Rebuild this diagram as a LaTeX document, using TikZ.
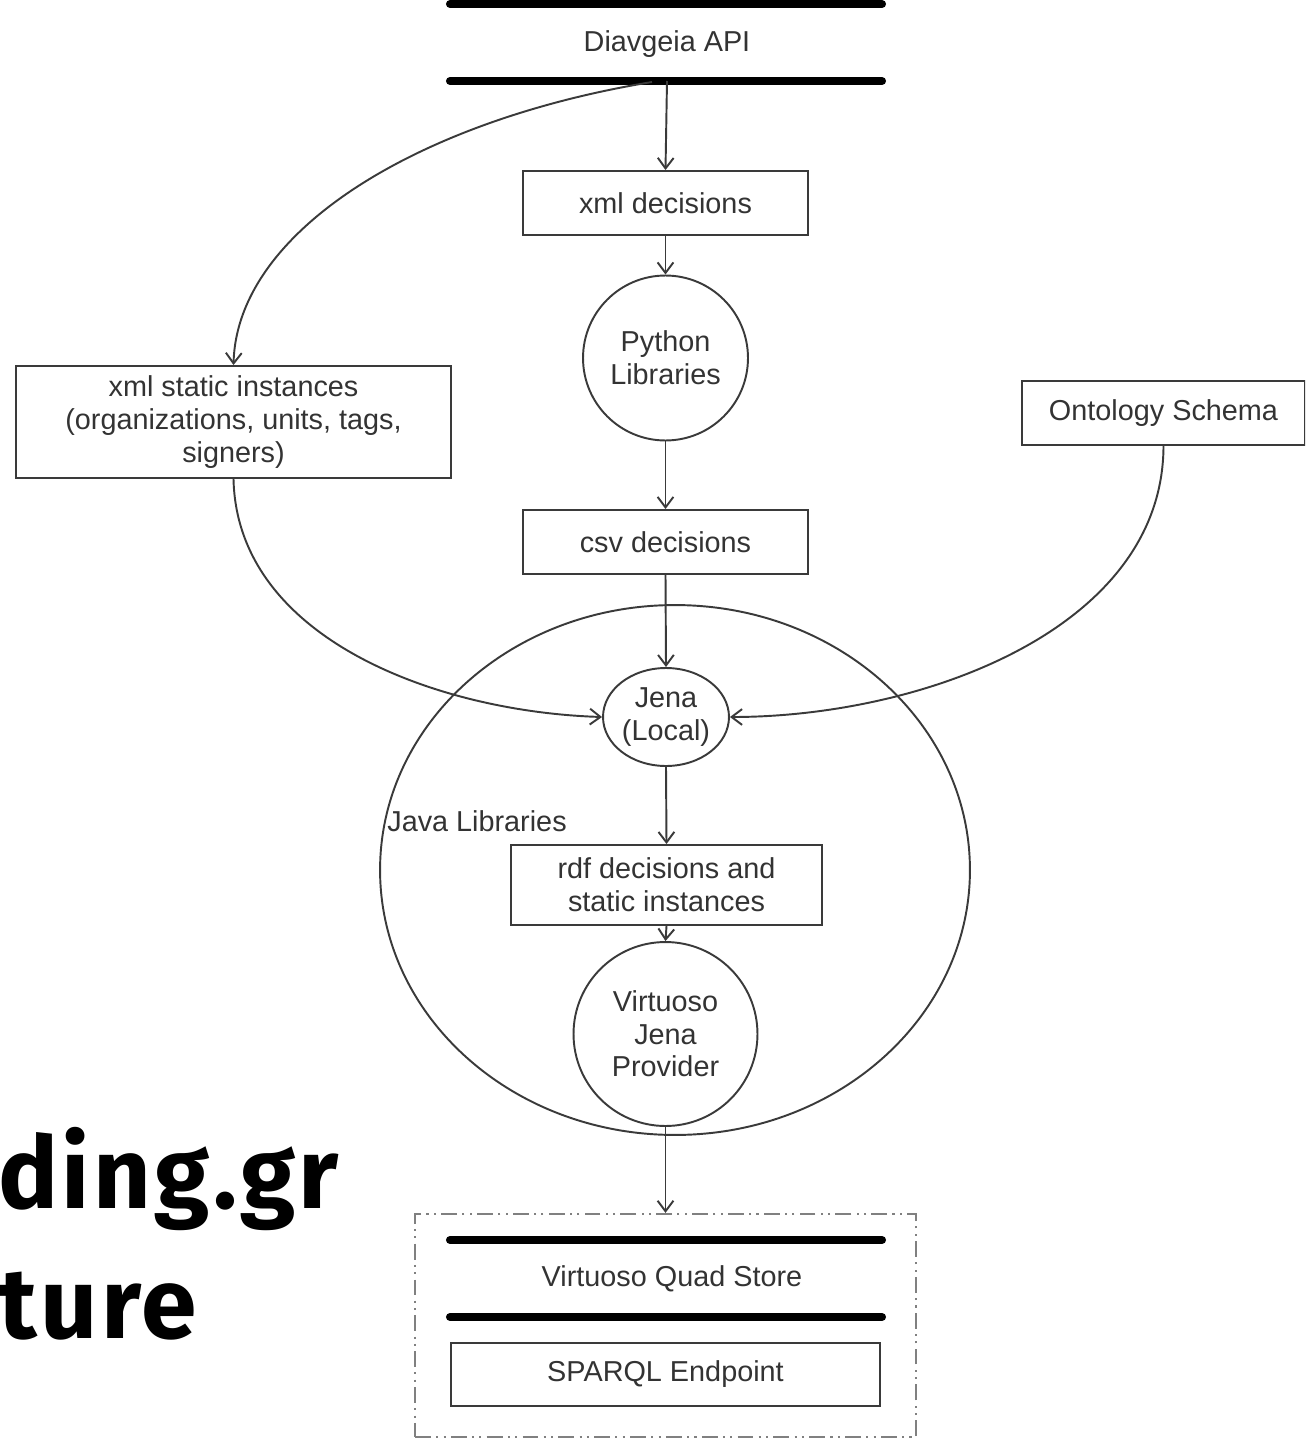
\documentclass[tikz,border=0pt]{standalone}
\usepackage{fontspec}
\setmainfont{Liberation Sans}
\newfontfamily\bigfont[LetterSpace=3.5]{Fira Sans}
\usetikzlibrary{arrows.meta,shapes.geometric}
\definecolor{ink}{HTML}{333333}
\definecolor{lineclr}{HTML}{3A3A3A}
\tikzset{
  lbl/.style={font=\fontsize{16.4}{18.6}\selectfont, text=ink, align=center},
  boxnode/.style={lbl, draw=lineclr, line width=1.1pt, rectangle, inner sep=0pt},
  circnode/.style={lbl, draw=lineclr, line width=1.1pt, circle, inner sep=0pt},
  ellnode/.style={lbl, draw=lineclr, line width=1.1pt, ellipse, inner sep=0pt},
  conn/.style={draw=lineclr, line width=1.1pt, -{Straight Barb[length=6pt,width=9pt,line width=1.1pt]}},
  bar/.style={line width=4.6pt, line cap=round, black},
  storebox/.style={draw=gray, line width=1.3pt, dash pattern=on 9pt off 3pt on 1.2pt off 3pt on 1.2pt off 3pt, rectangle, inner sep=0pt},
  bigtxt/.style={font=\bigfont\bfseries\fontsize{57}{68}\selectfont, anchor=base west, inner sep=0pt}
}
\begin{document}
\begin{tikzpicture}[x=0.02cm, y=-0.02cm]
\useasboundingbox (0,0) rectangle (1305,1440);
\clip (0,0) rectangle (1305,1440);
% Diavgeia API
\draw[bar] (450,4) -- (882,4);
\draw[bar] (450,81) -- (882,81);
\node[lbl] (api) at (667,44) {Diavgeia API};
\coordinate (apibot) at (667,81);
\coordinate (apiarc) at (652,82);
% nodes
\node[boxnode, minimum width=5.7cm, minimum height=1.28cm] (xmldec) at (665.5,203) {xml decisions};
\node[circnode, minimum size=3.3cm, text width=3cm] (python) at (665.5,358) {Python\\Libraries};
\node[boxnode, minimum width=5.7cm, minimum height=1.28cm] (csvdec) at (665.5,542) {csv decisions};
\node[boxnode, minimum width=8.7cm, minimum height=2.24cm] (xmlstatic) at (233.5,422) {xml static instances\\(organizations, units, tags,\\signers)};
\node[boxnode, minimum width=5.66cm, minimum height=1.28cm] (onto) at (1163.5,413) {Ontology Schema};
\node[ellnode, minimum width=11.8cm, minimum height=10.6cm] (java) at (675,870) {};
\node[ellnode, fill=white, minimum width=2.52cm, minimum height=1.96cm] (jena) at (666,717) {Jena\\(Local)};
\node[lbl, anchor=west, inner sep=0pt] (javalbl) at (387,821) {Java Libraries};
\node[boxnode, minimum width=6.22cm, minimum height=1.6cm] (rdf) at (666.5,885) {rdf decisions and\\static instances};
\node[circnode, minimum size=3.68cm] (virt) at (665.5,1034) {Virtuoso\\Jena\\Provider};
% store
\node[storebox, minimum width=10.02cm, minimum height=4.46cm] (store) at (665.5,1325.5) {};
\draw[bar] (450,1240) -- (882,1240);
\draw[bar] (450,1317) -- (882,1317);
\node[lbl] (quad) at (672,1279) {Virtuoso Quad Store};
\node[boxnode, minimum width=8.58cm, minimum height=1.26cm] (sparql) at (665.5,1374.5) {SPARQL Endpoint};
% connectors
\draw[conn] (apibot) -- (xmldec.north);
\draw[conn] (xmldec.south) -- (python.north);
\draw[conn] (python.south) -- (csvdec.north);
\draw[conn] (csvdec.south) -- (jena.north);
\draw[conn] (jena.south) -- (rdf.north);
\draw[conn] (rdf.south) -- (virt.north);
\draw[conn] (virt.south) -- (virt.south |- store.north);
\draw[conn] (apiarc) .. controls (420,120) and (237,230) .. (xmlstatic.north);
\draw[conn] (xmlstatic.south) .. controls (237,640) and (440,712) .. (jena.west);
\draw[conn] (onto.south) .. controls (1163,630) and (920,717) .. (jena.east);
% big title fragments
\node[bigtxt] (t1) at (-2,1208) {ding.gr};
\node[bigtxt] (t2) at (-2,1338) {ture};
\end{tikzpicture}
\end{document}
